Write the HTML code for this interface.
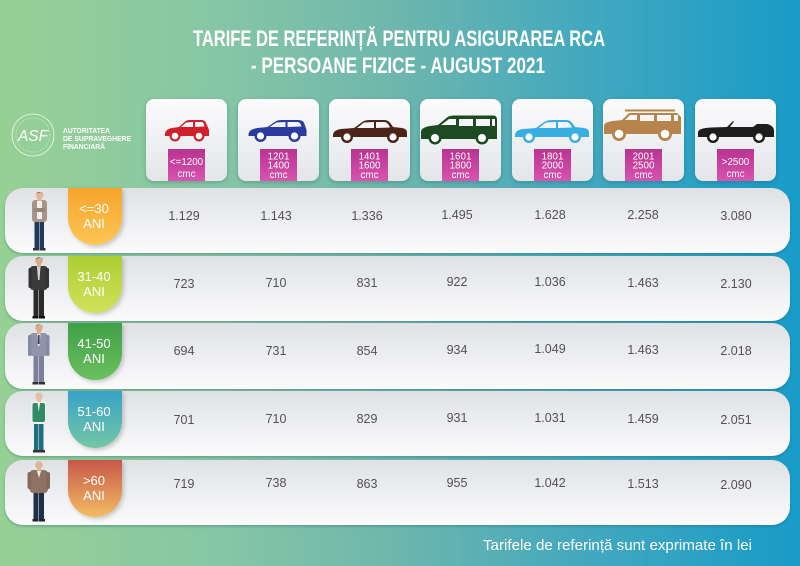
<!DOCTYPE html>
<html>
<head>
<meta charset="utf-8">
<style>
html,body{margin:0;padding:0;width:800px;height:566px;overflow:hidden;background:#6db6ad;}
svg{display:block;}
text{font-family:"Liberation Sans",sans-serif;}
</style>
</head>
<body>
<svg width="800" height="566" viewBox="0 0 800 566" xmlns="http://www.w3.org/2000/svg">
<defs>
  <linearGradient id="bg" x1="0" y1="0" x2="1" y2="0">
    <stop offset="0" stop-color="#97d095"/>
    <stop offset="0.28" stop-color="#86c6a6"/>
    <stop offset="0.5" stop-color="#6db6ad"/>
    <stop offset="0.7" stop-color="#48aabd"/>
    <stop offset="1" stop-color="#189bc8"/>
  </linearGradient>
  <linearGradient id="rowg" x1="0" y1="0" x2="0" y2="1">
    <stop offset="0" stop-color="#dfe1e5"/>
    <stop offset="1" stop-color="#fbfbfc"/>
  </linearGradient>
  <linearGradient id="cardg" x1="0" y1="0" x2="0" y2="1">
    <stop offset="0" stop-color="#fbfbfc"/>
    <stop offset="1" stop-color="#e3e5e9"/>
  </linearGradient>
  <linearGradient id="pink" x1="0" y1="0" x2="0" y2="1">
    <stop offset="0" stop-color="#b8338f"/>
    <stop offset="1" stop-color="#d953b0"/>
  </linearGradient>
  <linearGradient id="t1" x1="0" y1="0" x2="0" y2="1"><stop offset="0" stop-color="#f6a52c"/><stop offset="1" stop-color="#fcc654"/></linearGradient>
  <linearGradient id="t2" x1="0" y1="0" x2="0" y2="1"><stop offset="0" stop-color="#acce32"/><stop offset="1" stop-color="#d2e15c"/></linearGradient>
  <linearGradient id="t3" x1="0" y1="0" x2="0" y2="1"><stop offset="0" stop-color="#3f9f48"/><stop offset="1" stop-color="#6cc05e"/></linearGradient>
  <linearGradient id="t4" x1="0" y1="0" x2="0" y2="1"><stop offset="0" stop-color="#38a2c8"/><stop offset="1" stop-color="#74c7a4"/></linearGradient>
  <linearGradient id="t5" x1="0" y1="0" x2="0" y2="1"><stop offset="0" stop-color="#c6574a"/><stop offset="1" stop-color="#f4bd62"/></linearGradient>
  <filter id="sh" x="-10%" y="-10%" width="120%" height="130%">
    <feDropShadow dx="0" dy="1.5" stdDeviation="1.2" flood-color="#1c5a5e" flood-opacity="0.35"/>
  </filter>
  <filter id="csh" x="-15%" y="-15%" width="130%" height="130%">
    <feDropShadow dx="0" dy="1.5" stdDeviation="2" flood-color="#1c4a50" flood-opacity="0.3"/>
  </filter>
  <filter id="tsh" x="-20%" y="-10%" width="150%" height="130%">
    <feDropShadow dx="2" dy="2" stdDeviation="2" flood-color="#000" flood-opacity="0.2"/>
  </filter>
</defs>

<rect x="0" y="0" width="800" height="566" fill="url(#bg)"/>

<!-- Title -->
<text x="193" y="46" font-size="22" font-weight="bold" fill="#ffffff" textLength="412" lengthAdjust="spacingAndGlyphs">TARIFE DE REFERINȚĂ PENTRU ASIGURAREA RCA</text>
<text x="251" y="73" font-size="22" font-weight="bold" fill="#ffffff" textLength="294" lengthAdjust="spacingAndGlyphs">- PERSOANE FIZICE - AUGUST 2021</text>

<!-- Logo -->
<g fill="none" stroke="#ffffff" stroke-width="0.8" opacity="0.9">
  <circle cx="33" cy="135" r="21"/>
  <circle cx="33" cy="135" r="17" stroke-dasharray="1.5 1.5" opacity="0.6"/>
</g>
<text x="18" y="141" font-size="16" font-style="italic" fill="#ffffff" font-family="Liberation Serif, serif" textLength="30" lengthAdjust="spacingAndGlyphs">ASF</text>
<text x="63" y="133" font-size="7" font-weight="bold" fill="#ffffff" textLength="47" lengthAdjust="spacingAndGlyphs">AUTORITATEA</text>
<text x="63" y="141" font-size="7" font-weight="bold" fill="#ffffff" textLength="68" lengthAdjust="spacingAndGlyphs">DE SUPRAVEGHERE</text>
<text x="63" y="149" font-size="7" font-weight="bold" fill="#ffffff" textLength="42" lengthAdjust="spacingAndGlyphs">FINANCIARĂ</text>

<!-- Car cards -->
<g filter="url(#csh)">
  <rect x="146" y="99" width="81" height="82" rx="8" fill="url(#cardg)"/>
  <rect x="238" y="99" width="81" height="82" rx="8" fill="url(#cardg)"/>
  <rect x="329" y="99" width="81" height="82" rx="8" fill="url(#cardg)"/>
  <rect x="420" y="99" width="81" height="82" rx="8" fill="url(#cardg)"/>
  <rect x="512" y="99" width="81" height="82" rx="8" fill="url(#cardg)"/>
  <rect x="603" y="99" width="81" height="82" rx="8" fill="url(#cardg)"/>
  <rect x="695" y="99" width="81" height="82" rx="8" fill="url(#cardg)"/>
</g>
<g fill="url(#pink)">
  <rect x="168" y="149" width="37" height="32"/>
  <rect x="260" y="149" width="37" height="32"/>
  <rect x="351" y="149" width="37" height="32"/>
  <rect x="442" y="149" width="37" height="32"/>
  <rect x="534" y="149" width="37" height="32"/>
  <rect x="625" y="149" width="37" height="32"/>
  <rect x="717" y="149" width="37" height="32"/>
</g>
<g font-size="9.8" fill="#ffffff" text-anchor="middle">
  <text x="186.5" y="165">&lt;=1200</text><text x="186.5" y="177">cmc</text>
  <text x="278.5" y="159.5">1201</text><text x="278.5" y="168.5">1400</text><text x="278.5" y="178">cmc</text>
  <text x="369.5" y="159.5">1401</text><text x="369.5" y="168.5">1600</text><text x="369.5" y="178">cmc</text>
  <text x="460.5" y="159.5">1601</text><text x="460.5" y="168.5">1800</text><text x="460.5" y="178">cmc</text>
  <text x="552.5" y="159.5">1801</text><text x="552.5" y="168.5">2000</text><text x="552.5" y="178">cmc</text>
  <text x="643.5" y="159.5">2001</text><text x="643.5" y="168.5">2500</text><text x="643.5" y="178">cmc</text>
  <text x="735.5" y="165">&gt;2500</text><text x="735.5" y="177">cmc</text>
</g>

<!-- Car 1 red hatchback -->
<svg x="164" y="118" width="46" height="25" viewBox="0 0 46 25">
  <path d="M1,17 C1,13 3,11 8,10 L15,9 L21,3.5 C22.5,2.3 24,2 27,2 L37,2 C40,2 41.5,3 42.5,6 L45,12 L45,18 L1,18 Z" fill="#d1202b"/>
  <path d="M17,9 L22,4.5 L29,4 L29,9 Z M31,4 L37,4 C39,4 40,5 40.5,8.5 L31,9 Z" fill="#f6f6f8"/>
  <circle cx="11" cy="18" r="5.5" fill="#d1202b"/><circle cx="11" cy="18" r="3.3" fill="#fff"/>
  <circle cx="35" cy="18" r="5.5" fill="#d1202b"/><circle cx="35" cy="18" r="3.3" fill="#fff"/>
</svg>
<!-- Car 2 blue hatchback -->
<svg x="247" y="118" width="61" height="25" viewBox="0 0 60 25">
  <path d="M1,17 C1,13 4,11 10,10 L20,9 L28,3.5 C30,2.3 32,2 36,2 L50,2 C54,2 56,3 57,6 L59,12 L59,18 L1,18 Z" fill="#2a3a9e"/>
  <path d="M22,9 L29,4.5 L38,4 L38,9 Z M40,4 L49,4 C52,4 53,5 54,8.5 L40,9 Z" fill="#f6f6f8"/>
  <circle cx="13" cy="18" r="6" fill="#2a3a9e"/><circle cx="13" cy="18" r="3.6" fill="#fff"/>
  <circle cx="47" cy="18" r="6" fill="#2a3a9e"/><circle cx="47" cy="18" r="3.6" fill="#fff"/>
</svg>
<!-- Car 3 brown sedan -->
<svg x="332" y="118" width="76" height="26" viewBox="0 0 76 26">
  <path d="M1,18 C1,14 3,12 9,11 L22,10 L31,3.5 C33,2.3 36,2 40,2 L52,2 C56,2 58,4 61,9 L70,10 C74,11 75,12 75,15 L75,19 L1,19 Z" fill="#4b2319"/>
  <path d="M25,10 L32,4.5 L42,4 L42,10 Z M44,4 L52,4 C55,4 56.5,6 58,9.5 L44,10 Z" fill="#f6f6f8"/>
  <circle cx="15" cy="19" r="6" fill="#4b2319"/><circle cx="15" cy="19" r="3.6" fill="#fff"/>
  <circle cx="61" cy="19" r="6" fill="#4b2319"/><circle cx="61" cy="19" r="3.6" fill="#fff"/>
</svg>
<!-- Car 4 green minivan -->
<svg x="420" y="114" width="78" height="32" viewBox="0 0 78 32">
  <path d="M1,24 L1,18 C1,15 4,13 10,12 L18,11 L27,3.5 C29,2 31,1.5 35,1.5 L73,1.5 C76,1.5 77,3 77,6 L77,25 L1,25 Z" fill="#1d4a23"/>
  <path d="M21,11 L29,5 L36,5 L36,11 Z M39,5 L53,5 L53,12 L39,12 Z M56,5 L70,5 L70,12 L56,12 Z M72,5 L75,5 L75,12 L72,12 Z" fill="#f6f6f8"/>
  <circle cx="15" cy="24" r="6.5" fill="#1d4a23"/><circle cx="15" cy="24" r="4" fill="#fff"/>
  <circle cx="62" cy="24" r="6.5" fill="#1d4a23"/><circle cx="62" cy="24" r="4" fill="#fff"/>
</svg>
<!-- Car 5 light blue sedan -->
<svg x="512" y="118" width="80" height="26" viewBox="0 0 76 26">
  <path d="M1,18 C1,14 3,12 9,11 L22,10 L31,3.5 C33,2.3 36,2 40,2 L52,2 C56,2 58,4 61,9 L70,10 C74,11 75,12 75,15 L75,19 L1,19 Z" fill="#38aee2"/>
  <path d="M25,10 L32,4.5 L42,4 L42,10 Z M44,4 L52,4 C55,4 56.5,6 58,9.5 L44,10 Z" fill="#f6f6f8"/>
  <circle cx="15" cy="19" r="6" fill="#38aee2"/><circle cx="15" cy="19" r="3.6" fill="#fff"/>
  <circle cx="61" cy="19" r="6" fill="#38aee2"/><circle cx="61" cy="19" r="3.6" fill="#fff"/>
</svg>
<!-- Car 6 tan SUV -->
<svg x="603" y="108" width="80" height="34" viewBox="0 0 80 34">
  <path d="M22,1.5 L72,1.5 L72,3.5 L22,3.5 Z" fill="#b7844c"/>
  <path d="M1,25 L1,18 C1,15 4,14 10,13 L19,12 L25,6 C26,5 27,5 30,5 L74,5 L78,9 L78,26 L1,26 Z" fill="#b7844c"/>
  <path d="M22,12 L27,7 L34,7 L34,12 Z M37,7 L51,7 L51,13 L37,13 Z M54,7 L68,7 L68,13 L54,13 Z M71,7 L75,7 L75,13 L71,13 Z" fill="#f6f6f8"/>
  <circle cx="16" cy="26" r="7" fill="#b7844c"/><circle cx="16" cy="26" r="4.3" fill="#fff"/>
  <circle cx="62" cy="26" r="7" fill="#b7844c"/><circle cx="62" cy="26" r="4.3" fill="#fff"/>
</svg>
<!-- Car 7 black convertible -->
<svg x="697" y="118" width="78" height="26" viewBox="0 0 78 26">
  <path d="M1,19 L1,14 C2,11 6,10 14,9.5 L30,9 L36,3 L37,3.5 L33,9 L56,9 L60,6 L70,6 C74,7 77,9 77,13 L77,19 Z" fill="#1d1d1d"/>
  <circle cx="16" cy="19" r="6" fill="#1d1d1d"/><circle cx="16" cy="19" r="3.6" fill="#fff"/>
  <circle cx="62" cy="19" r="6" fill="#1d1d1d"/><circle cx="62" cy="19" r="3.6" fill="#fff"/>
</svg>

<!-- Rows -->
<g filter="url(#sh)">
  <rect x="5" y="188" width="785" height="65" rx="18" fill="url(#rowg)"/>
  <rect x="5" y="256" width="785" height="65" rx="18" fill="url(#rowg)"/>
  <rect x="5" y="323" width="785" height="66" rx="18" fill="url(#rowg)"/>
  <rect x="5" y="391" width="785" height="65" rx="18" fill="url(#rowg)"/>
  <rect x="5" y="460" width="785" height="65" rx="18" fill="url(#rowg)"/>
</g>

<!-- Tabs -->
<g filter="url(#tsh)">
  <path d="M68,188 L122,188 L122,218 A27,27 0 0 1 68,218 Z" fill="url(#t1)"/>
  <path d="M68,256 L122,256 L122,286 A27,27 0 0 1 68,286 Z" fill="url(#t2)"/>
  <path d="M68,323 L122,323 L122,353 A27,27 0 0 1 68,353 Z" fill="url(#t3)"/>
  <path d="M68,391 L122,391 L122,421 A27,27 0 0 1 68,421 Z" fill="url(#t4)"/>
  <path d="M68,460 L122,460 L122,490 A27,27 0 0 1 68,490 Z" fill="url(#t5)"/>
</g>
<g font-size="13" fill="#ffffff" text-anchor="middle">
  <text x="94" y="213">&lt;=30</text><text x="94" y="228">ANI</text>
  <text x="94" y="281">31-40</text><text x="94" y="296">ANI</text>
  <text x="94" y="348">41-50</text><text x="94" y="363">ANI</text>
  <text x="94" y="416">51-60</text><text x="94" y="431">ANI</text>
  <text x="94" y="485">&gt;60</text><text x="94" y="500">ANI</text>
</g>

<!-- Persons -->
<g>
  <rect x="34.5" y="221" width="4.5" height="28" fill="#1f3a58"/>
  <rect x="39.5" y="221" width="4.5" height="28" fill="#1f3a58"/>
  <rect x="33" y="248" width="6" height="2.5" fill="#333"/>
  <rect x="39.5" y="248" width="6" height="2.5" fill="#333"/>
  <rect x="32" y="200" width="15" height="22" rx="3" fill="#a8958a"/>
  <rect x="37" y="201" width="5" height="18" fill="#f2f0ee"/>
  <rect x="34" y="208" width="11" height="4" rx="2" fill="#978478"/>
  <rect x="37.5" y="197" width="4" height="4" fill="#e3b796"/>
  <circle cx="39.5" cy="195.5" r="3.6" fill="#e3b796"/>
  <path d="M35.8,195 C36,191 43,191 43.2,195 L43,193 C41,192 38,192 36,194 Z" fill="#4a3026"/>
</g>
<g>
  <rect x="33.5" y="289" width="5" height="28" fill="#2a2a2a"/>
  <rect x="39" y="289" width="5" height="28" fill="#2a2a2a"/>
  <rect x="32.5" y="316" width="6" height="2.5" fill="#111"/>
  <rect x="39" y="316" width="6" height="2.5" fill="#111"/>
  <rect x="30" y="266" width="17.5" height="24" rx="3" fill="#3a3a3a"/>
  <rect x="28.5" y="268" width="3.5" height="20" rx="1.5" fill="#333"/>
  <rect x="45.5" y="268" width="3.5" height="20" rx="1.5" fill="#333"/>
  <path d="M37,267 L40.5,267 L39.5,280 L38,280 Z" fill="#cfd3d8"/>
  <rect x="37" y="263" width="4" height="4" fill="#d9ac8a"/>
  <circle cx="39" cy="261" r="3.7" fill="#d9ac8a"/>
  <path d="M35.3,260.5 C35.5,256.5 42.5,256.5 42.7,260.5 L42.5,258.5 C40,257.5 38,257.5 35.5,259.5 Z" fill="#2b2220"/>
</g>
<g>
  <rect x="33.5" y="355" width="5" height="28" fill="#7c809a"/>
  <rect x="39" y="355" width="5" height="28" fill="#7c809a"/>
  <rect x="32.5" y="382" width="6" height="2.5" fill="#333"/>
  <rect x="39" y="382" width="6" height="2.5" fill="#333"/>
  <rect x="30" y="333" width="17.5" height="23" rx="3" fill="#8f93ac"/>
  <rect x="28" y="335" width="3.5" height="21" rx="1.5" fill="#858aa3"/>
  <rect x="46" y="335" width="3.5" height="21" rx="1.5" fill="#858aa3"/>
  <path d="M37,334 L40.5,334 L39.5,346 L38,346 Z" fill="#e8e8ee"/>
  <rect x="37.8" y="335" width="1.8" height="9" fill="#3a3f5a"/>
  <rect x="37" y="330" width="4" height="4" fill="#d9ac8a"/>
  <circle cx="39" cy="328" r="3.7" fill="#d9ac8a"/>
  <path d="M35.3,327.5 C35.5,323.5 42.5,323.5 42.7,327.5 L42.5,325.5 C40,324.5 38,324.5 35.5,326.5 Z" fill="#6b6b6b"/>
</g>
<g>
  <rect x="34" y="423" width="4.5" height="28" fill="#1f6e7c"/>
  <rect x="39" y="423" width="4.5" height="28" fill="#1f6e7c"/>
  <rect x="33" y="450" width="6" height="2.5" fill="#333"/>
  <rect x="39" y="450" width="6" height="2.5" fill="#333"/>
  <rect x="31" y="401" width="15.5" height="23" rx="3" fill="#f3f1ec"/>
  <rect x="32.5" y="403" width="12.5" height="19" rx="2" fill="#2f8a68"/>
  <path d="M37.5,403 L40,403 L38.8,412 Z" fill="#f3f1ec"/>
  <rect x="37" y="398" width="4" height="4" fill="#e6bfa0"/>
  <circle cx="39" cy="396" r="3.7" fill="#e6bfa0"/>
  <path d="M35.3,395.5 C35.5,391.5 42.5,391.5 42.7,395.5 L42.5,393.5 C40,392.5 38,392.5 35.5,394.5 Z" fill="#d8d8d8"/>
</g>
<g>
  <rect x="33.5" y="492" width="5" height="28" fill="#1d3048"/>
  <rect x="39" y="492" width="5" height="28" fill="#1d3048"/>
  <rect x="32.5" y="519" width="6" height="2.5" fill="#222"/>
  <rect x="39" y="519" width="6" height="2.5" fill="#222"/>
  <rect x="29.5" y="470" width="18.5" height="23" rx="4" fill="#8e7264"/>
  <rect x="27.5" y="472" width="4" height="17" rx="2" fill="#846a5c"/>
  <rect x="46" y="472" width="4" height="17" rx="2" fill="#846a5c"/>
  <path d="M37,471 L41,471 L39,478 Z" fill="#f0ece6"/>
  <rect x="37" y="467" width="4" height="4" fill="#e0b594"/>
  <circle cx="39" cy="465" r="3.8" fill="#e0b594"/>
</g>

<!-- Numbers -->
<g font-size="12.5" fill="#525252" text-anchor="middle">
  <text x="184" y="220">1.129</text><text x="276" y="220">1.143</text><text x="367" y="220">1.336</text><text x="457" y="219">1.495</text><text x="550" y="219">1.628</text><text x="643" y="219">2.258</text><text x="736" y="220">3.080</text>
  <text x="184" y="288">723</text><text x="276" y="287">710</text><text x="367" y="287">831</text><text x="457" y="286">922</text><text x="550" y="286">1.036</text><text x="643" y="287">1.463</text><text x="736" y="288">2.130</text>
  <text x="184" y="355">694</text><text x="276" y="355">731</text><text x="367" y="355">854</text><text x="457" y="354">934</text><text x="550" y="353">1.049</text><text x="643" y="354">1.463</text><text x="736" y="355">2.018</text>
  <text x="184" y="424">701</text><text x="276" y="423">710</text><text x="367" y="423">829</text><text x="457" y="422">931</text><text x="550" y="422">1.031</text><text x="643" y="423">1.459</text><text x="736" y="424">2.051</text>
  <text x="184" y="488">719</text><text x="276" y="487">738</text><text x="367" y="488">863</text><text x="457" y="487">955</text><text x="550" y="487">1.042</text><text x="643" y="488">1.513</text><text x="736" y="489">2.090</text>
</g>

<!-- Footer note -->
<text x="483" y="550" font-size="14.5" fill="#ffffff" textLength="269" lengthAdjust="spacingAndGlyphs">Tarifele de referință sunt exprimate în lei</text>
</svg>
</body>
</html>
